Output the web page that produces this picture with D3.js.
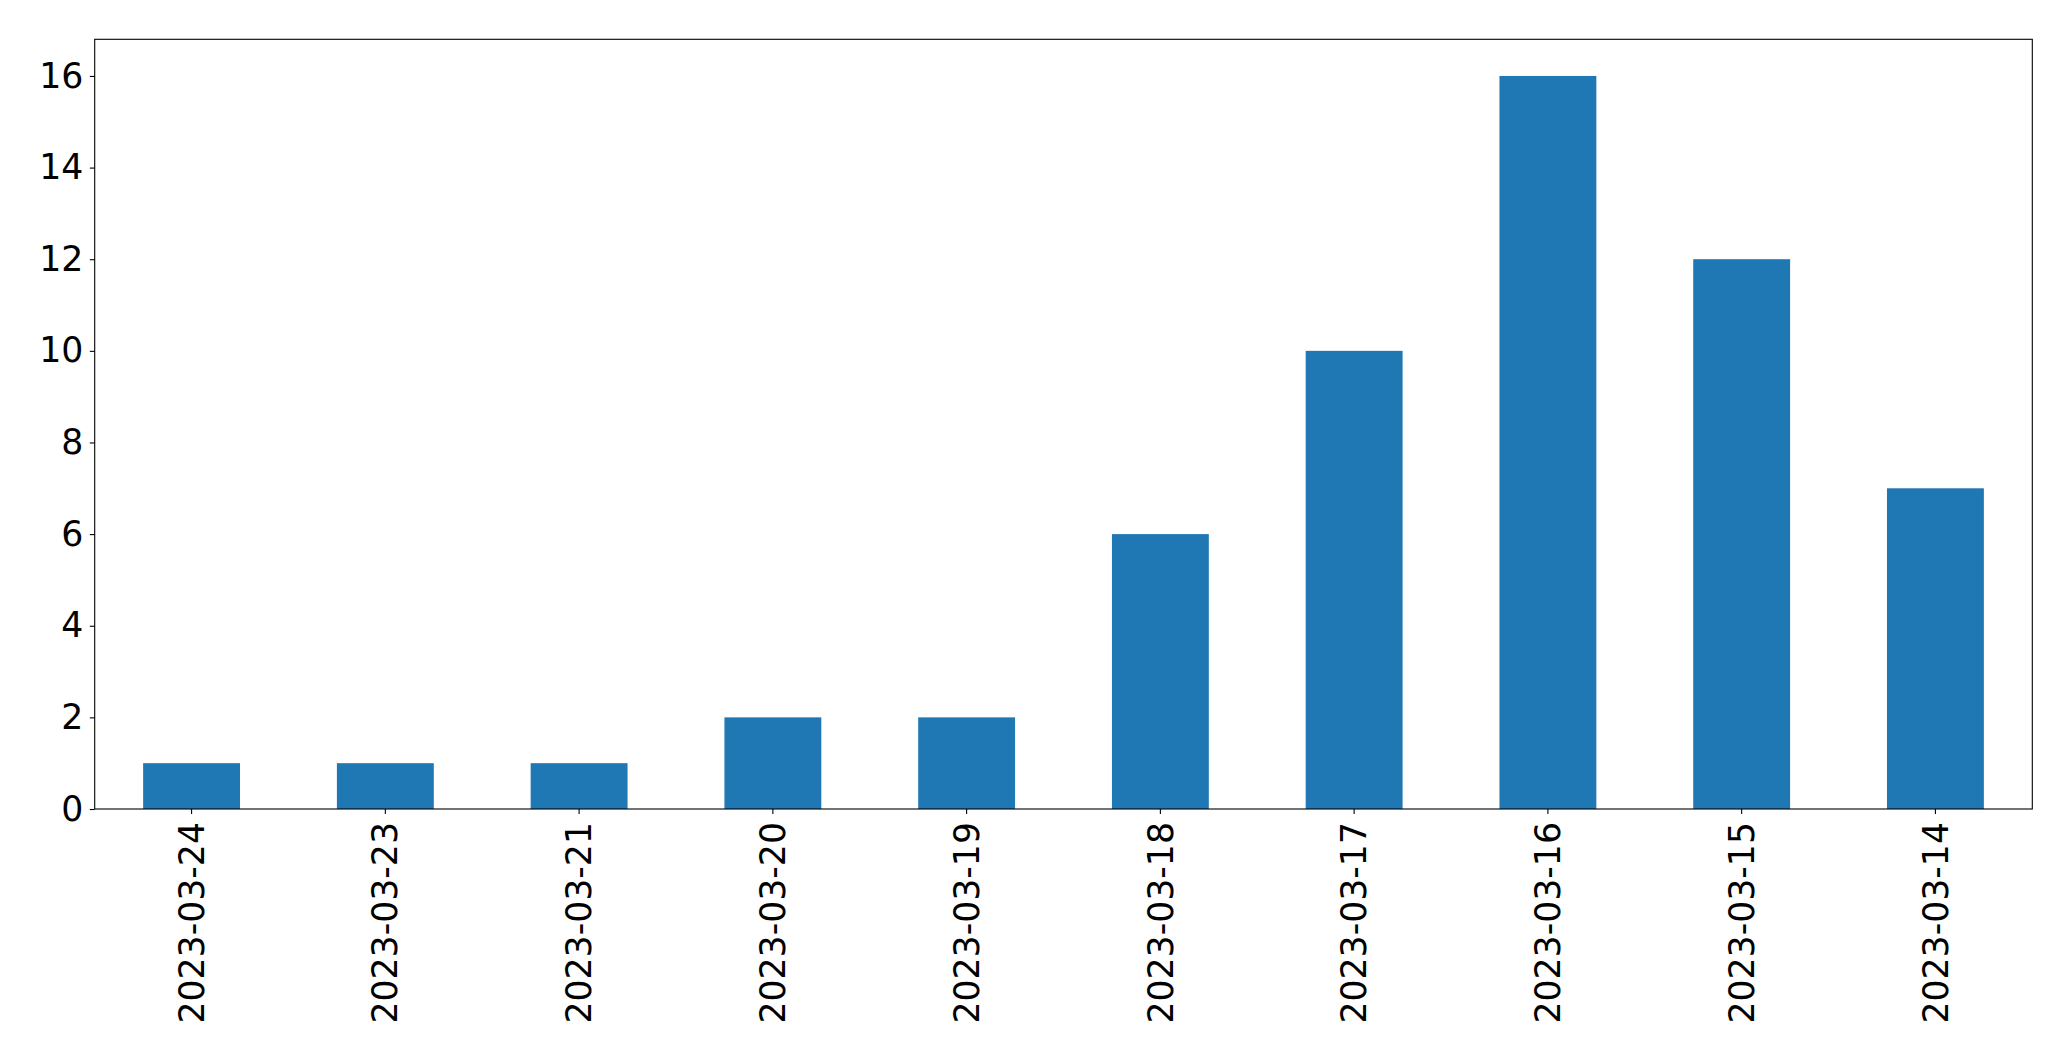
<!DOCTYPE html>
<html>
<head>
<meta charset="utf-8">
<script src="https://cdn.jsdelivr.net/npm/d3@7"></script>
<style>
  html, body { margin: 0; padding: 0; background: #fff; }
  svg { display: block; }
  text { font-family: "DejaVu Sans", sans-serif; fill: #000; }
</style>
</head>
<body>
<svg id="chart" width="2071" height="1061"></svg>
<script>
const categories = ["2023-03-24","2023-03-23","2023-03-21","2023-03-20","2023-03-19","2023-03-18","2023-03-17","2023-03-16","2023-03-15","2023-03-14"];
const values = [1, 1, 1, 2, 2, 6, 10, 16, 12, 7];
const yTicks = [0, 2, 4, 6, 8, 10, 12, 14, 16];

const W = 2071, H = 1061;
const margin = { left: 94.7, right: W - 2032.3, top: 39.3, bottom: H - 809 };
const svg = d3.select("#chart");
const fontSize = 34.7;

const x = d3.scaleBand()
  .domain(categories)
  .range([margin.left, W - margin.right])
  .paddingInner(0.5)
  .paddingOuter(0.25);

const yMax = d3.max(values) * 1.05;
const y = d3.scaleLinear().domain([0, yMax]).range([H - margin.bottom, margin.top]);

// bars
svg.append("g").selectAll("rect")
  .data(values)
  .join("rect")
  .attr("x", (d, i) => x(categories[i]))
  .attr("width", x.bandwidth())
  .attr("y", d => y(d))
  .attr("height", d => y(0) - y(d))
  .attr("fill", "#1f77b4");

// y axis
const yAxis = svg.append("g")
  .attr("transform", `translate(${margin.left},0)`)
  .call(d3.axisLeft(y).tickValues(yTicks).tickSize(4.9).tickPadding(6.5).tickFormat(d3.format("d")));
yAxis.select(".domain").remove();
yAxis.selectAll("line").attr("stroke", "#000").attr("stroke-width", 1.1);
yAxis.selectAll("text").style("font-size", fontSize + "px").attr("fill", "#000");

// x axis
const xAxis = svg.append("g")
  .attr("transform", `translate(0,${H - margin.bottom})`)
  .call(d3.axisBottom(x).tickSize(4.9).tickPadding(0));
xAxis.select(".domain").remove();
xAxis.selectAll("line").attr("stroke", "#000").attr("stroke-width", 1.1);
xAxis.selectAll("text")
  .style("font-size", fontSize + "px")
  .attr("fill", "#000")
  .attr("text-anchor", "end")
  .attr("dy", "0.35em")
  .attr("transform", "translate(0,13) rotate(-90)")
  .attr("x", 0)
  .attr("y", 0);

// frame
svg.append("rect")
  .attr("x", margin.left)
  .attr("y", margin.top)
  .attr("width", W - margin.right - margin.left)
  .attr("height", H - margin.bottom - margin.top)
  .attr("fill", "none")
  .attr("stroke", "#000")
  .attr("stroke-width", 1.1);
</script>
</body>
</html>
